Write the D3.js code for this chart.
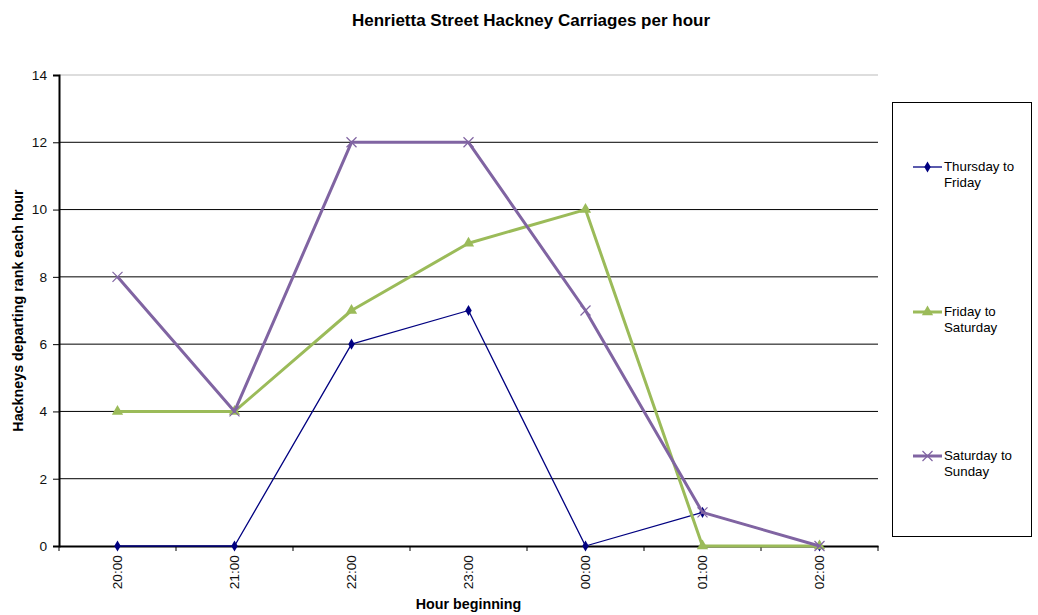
<!DOCTYPE html>
<head>
  <meta charset="utf-8">
  <script src='https://d3js.org/d3.v7.min.js'></script>
  <style>
    body { margin: 0; background: #fff; }
    text { font-family: "Liberation Sans", Arial, sans-serif; }
    .title { font-size: 17px; font-weight: bold; }
    .axis-title { font-size: 14.3px; font-weight: bold; }
    .tick text { font-size: 13.7px; fill: #111; }
    .legend text { font-size: 13.3px; }
  </style>
</head>
<body>
<script>
var hours = ['20:00', '21:00', '22:00', '23:00', '00:00', '01:00', '02:00'];
var thursday = [0, 0, 6, 7, 0, 1, 0];
var friday = [4, 4, 7, 9, 10, 0, 0];
var saturday = [8, 4, 12, 12, 7, 1, 0];
var yTicks = [0, 2, 4, 6, 8, 10, 12, 14];

var series = [
  { name: ['Thursday to', 'Friday'], values: thursday, color: '#000080', width: 1.3, marker: 'diamond' },
  { name: ['Friday to', 'Saturday'], values: friday, color: '#9bbb59', width: 3, marker: 'triangle' },
  { name: ['Saturday to', 'Sunday'], values: saturday, color: '#8064a2', width: 3, marker: 'x' }
];

var width = 1038, height = 615;
var plotLeft = 59, plotRight = 878, plotTop = 75, plotBottom = 546;

var svg = d3.select('body').append('svg')
  .attr('width', width)
  .attr('height', height);

var x = d3.scaleBand().domain(hours).range([plotLeft, plotRight]);
var y = d3.scaleLinear().domain([0, 14]).range([plotBottom, plotTop]);

// gridlines
svg.append('g')
  .selectAll('line')
  .data(yTicks.filter(d => d > 0))
  .enter().append('line')
  .attr('x1', plotLeft).attr('x2', plotRight)
  .attr('y1', d => y(d)).attr('y2', d => y(d))
  .style('stroke', d => d === 14 ? '#bbb' : '#000')
  .style('stroke-width', 1);

// y axis
var yAxis = svg.append('g')
  .attr('transform', 'translate(' + plotLeft + ',0)')
  .call(d3.axisLeft(y).tickValues(yTicks).tickSize(6).tickPadding(6));
yAxis.select('.domain').style('stroke-width', 2);

// x axis
var xAxis = svg.append('g')
  .attr('transform', 'translate(0,' + plotBottom + ')')
  .call(d3.axisBottom(x).tickSize(0).tickPadding(0));
xAxis.select('.domain').style('stroke-width', 2);
xAxis.selectAll('.tick text')
  .attr('transform', 'rotate(-90)')
  .attr('text-anchor', 'end')
  .attr('x', -9)
  .attr('y', 0)
  .attr('dy', '0.35em');

// tick marks between categories
svg.append('g')
  .selectAll('line')
  .data(d3.range(hours.length + 1))
  .enter().append('line')
  .attr('x1', i => plotLeft + i * x.step()).attr('x2', i => plotLeft + i * x.step())
  .attr('y1', plotBottom).attr('y2', plotBottom + 5)
  .style('stroke', '#000');

var cx = d => x(d) + x.bandwidth() / 2;

var line = d3.line()
  .x((d, i) => cx(hours[i]))
  .y(d => y(d));

function drawMarker(g, type, color) {
  if (type === 'diamond') {
    g.append('path')
      .attr('d', d3.symbol().type(d3.symbolDiamond).size(36))
      .style('fill', color);
  } else if (type === 'triangle') {
    g.append('path')
      .attr('d', d3.symbol().type(d3.symbolTriangle).size(55))
      .style('fill', color);
  } else {
    g.append('path')
      .attr('d', 'M-5,-5L5,5M-5,5L5,-5')
      .style('stroke', color)
      .style('stroke-width', 1.2)
      .style('fill', 'none');
  }
}

series.forEach(function(s) {
  svg.append('path')
    .datum(s.values)
    .attr('d', line)
    .style('fill', 'none')
    .style('stroke', s.color)
    .style('stroke-width', s.width)
    .style('stroke-linejoin', 'round');

  s.values.forEach(function(v, i) {
    var g = svg.append('g')
      .attr('transform', 'translate(' + cx(hours[i]) + ',' + y(v) + ')');
    drawMarker(g, s.marker, s.color);
  });
});

// title + axis titles
svg.append('text')
  .attr('class', 'title')
  .attr('x', 531).attr('y', 26)
  .attr('text-anchor', 'middle')
  .text('Henrietta Street Hackney Carriages per hour');

svg.append('text')
  .attr('class', 'axis-title')
  .attr('transform', 'translate(23,' + ((plotTop + plotBottom) / 2) + ') rotate(-90)')
  .attr('text-anchor', 'middle')
  .text('Hackneys departing rank each hour');

svg.append('text')
  .attr('class', 'axis-title')
  .attr('x', (plotLeft + plotRight) / 2).attr('y', 609)
  .attr('text-anchor', 'middle')
  .text('Hour beginning');

// legend
var legend = svg.append('g').attr('class', 'legend');
legend.append('rect')
  .attr('x', 892.5).attr('y', 102.5)
  .attr('width', 139).attr('height', 434)
  .style('fill', '#fff')
  .style('stroke', '#000')
  .style('stroke-width', 1);

var legendY = [167, 312, 456];
series.forEach(function(s, i) {
  var ly = legendY[i];
  legend.append('line')
    .attr('x1', 913).attr('x2', 942)
    .attr('y1', ly).attr('y2', ly)
    .style('stroke', s.color)
    .style('stroke-width', s.width);
  var g = legend.append('g').attr('transform', 'translate(927.5,' + ly + ')');
  drawMarker(g, s.marker, s.color);
  var t = legend.append('text').attr('x', 944).attr('y', ly + 4);
  t.append('tspan').attr('x', 944).text(s.name[0]);
  t.append('tspan').attr('x', 944).attr('dy', 16).text(s.name[1]);
});
</script>
</body>
